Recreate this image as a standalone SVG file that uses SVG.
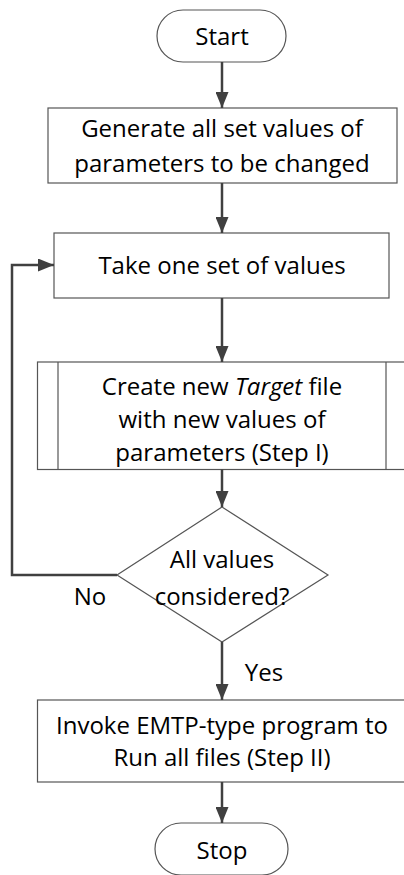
<svg xmlns="http://www.w3.org/2000/svg" width="404" height="875" viewBox="0 0 404 875">
<defs>
<style>
.box{fill:#fff;stroke:#555;stroke-width:1.2}
.t{font-family:"Open Sans","Noto Sans",sans-serif;font-size:24px;fill:#000;text-anchor:middle}
.c{fill:none;stroke:#404040;stroke-width:2.5}
</style>
<marker id="ah" viewBox="0 0 16 13" refX="16" refY="6.5" markerWidth="16" markerHeight="13" markerUnits="userSpaceOnUse" orient="auto">
<path d="M0,0 L16,6.5 L0,13 Z" fill="#404040"/>
</marker>
</defs>
<rect width="404" height="875" fill="#fff"/>
<g id="start">
<rect class="box" x="157" y="10" width="129" height="52" rx="26"/>
<text class="t" x="222" y="44.5">Start</text>
</g>
<g id="generate">
<rect class="box" x="48" y="108" width="349" height="75"/>
<text class="t" x="222" y="136.5">Generate all set values of</text>
<text class="t" x="222" y="171.5">parameters to be changed</text>
</g>
<g id="take">
<rect class="box" x="54" y="233" width="335" height="65"/>
<text class="t" x="222" y="273.5">Take one set of values</text>
</g>
<g id="create">
<rect class="box" x="37.5" y="362" width="380" height="107.5"/>
<line class="box" x1="58" y1="362" x2="58" y2="469.5"/>
<line class="box" x1="386" y1="362" x2="386" y2="469.5"/>
<text class="t" x="222" y="394.5">Create new <tspan font-style="italic">Target</tspan> file</text>
<text class="t" x="222" y="427.5">with new values of</text>
<text class="t" x="222" y="460.5">parameters (Step I)</text>
</g>
<g id="decision">
<polygon class="box" points="222,507 328,575 222,642 117,575"/>
<text class="t" x="222" y="567.5">All values</text>
<text class="t" x="222" y="604.5">considered?</text>
</g>
<g id="invoke">
<rect class="box" x="37.5" y="700" width="380" height="82"/>
<text class="t" x="222" y="733.5">Invoke EMTP-type program to</text>
<text class="t" x="222" y="765.5">Run all files (Step II)</text>
</g>
<g id="stop">
<rect class="box" x="155" y="823" width="133" height="52" rx="26"/>
<text class="t" x="222" y="858.5">Stop</text>
</g>
<g id="connectors">
<line class="c" x1="222" y1="62" x2="222" y2="108" marker-end="url(#ah)"/>
<line class="c" x1="222" y1="183" x2="222" y2="233" marker-end="url(#ah)"/>
<line class="c" x1="222" y1="298" x2="222" y2="362" marker-end="url(#ah)"/>
<line class="c" x1="222" y1="469.5" x2="222" y2="507" marker-end="url(#ah)"/>
<polyline class="c" points="117,575 12,575 12,265 54,265" marker-end="url(#ah)"/>
<line class="c" x1="222" y1="642" x2="222" y2="700" marker-end="url(#ah)"/>
<line class="c" x1="222" y1="782" x2="222" y2="823" marker-end="url(#ah)"/>
<text class="t" x="90" y="604.5">No</text>
<text class="t" x="264" y="680.5">Yes</text>
</g>
</svg>
